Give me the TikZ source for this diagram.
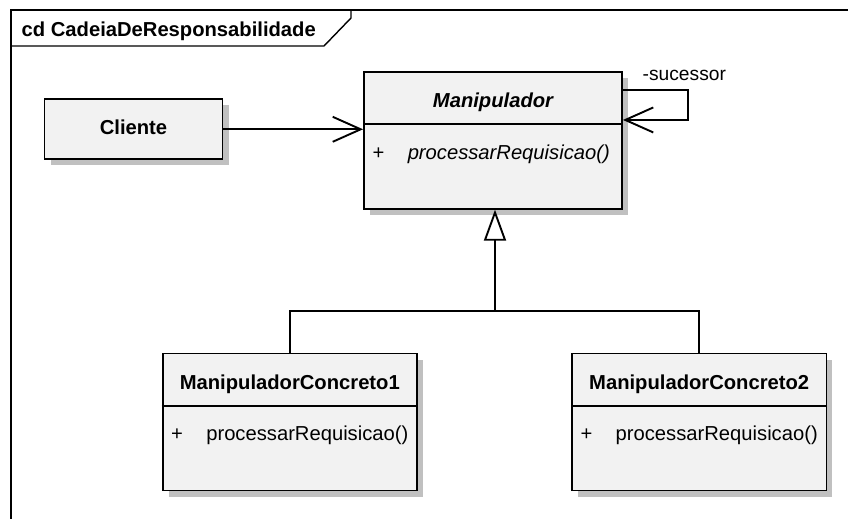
\documentclass[tikz,border=0pt]{standalone}
\usepackage{fontspec}
\setmainfont{Liberation Sans}
\usetikzlibrary{arrows.meta,shadows}

\definecolor{boxfill}{HTML}{F2F2F2}
\definecolor{shadowgray}{HTML}{C0C0C0}
\newcommand\umlreg{\fontsize{20.2}{24}\selectfont}
\newcommand\umlbold{\fontsize{20.2}{24}\selectfont\bfseries}

\tikzset{
  umlline/.style={line width=1.9pt},
  frameline/.style={line width=1.4pt},
  classbox/.style={draw, umlline, fill=boxfill, inner sep=0pt,
    drop shadow={shadow xshift=6pt, shadow yshift=-6pt, fill=shadowgray, opacity=1}},
  classname/.style={anchor=base, inner sep=0pt, font=\umlbold},
  optext/.style={anchor=base west, inner sep=0pt, font=\umlreg},
  vistext/.style={anchor=base, inner sep=0pt, font=\umlreg},
  assoc/.style={umlline, -{Straight Barb[length=28pt, width=25pt]}},
  general/.style={umlline, -{Triangle[open, fill=white, length=31pt, width=22pt]}},
}

\begin{document}
\begin{tikzpicture}[x=1pt, y=-1pt, line join=miter]
  \fill[white] (0,0) rectangle (848,519);
  \useasboundingbox (0,0) rectangle (848,519);

  % diagram frame with its name tab
  \draw[frameline] (848,10) -- (11,10) -- (11,519);
  \draw[frameline] (11,46) -- (324,46) -- (351,18) -- (351,10);
  \node[anchor=base west, inner sep=0pt, font=\umlbold] (frametitle) at (21.5,37)
    {cd CadeiaDeResponsabilidade};

  % Cliente
  \node[classbox, minimum width=178pt, minimum height=60pt] (cli) at (133.5,129.3) {};
  \node[classname] (cli-name) at ([yshift=-36.5pt]cli.north) {Cliente};

  % Manipulador (abstract)
  \node[classbox, minimum width=258pt, minimum height=137pt] (man) at (493,140.2) {};
  \node[classname, font=\umlbold\itshape] (man-name) at ([yshift=-36.7pt]man.north) {Manipulador};
  \draw[umlline] ([yshift=-53pt]man.north west) -- ([yshift=-53pt]man.north east);
  \node[vistext] (man-vis) at ([xshift=15.5pt, yshift=-88.3pt]man.north west) {+};
  \node[optext, font=\umlreg\itshape] (man-op) at ([xshift=44.5pt, yshift=-88.3pt]man.north west)
    {processarRequisicao()};

  % ManipuladorConcreto1
  \node[classbox, minimum width=254.5pt, minimum height=137pt] (mc1) at (289.8,422) {};
  \node[classname] (mc1-name) at ([yshift=-36.7pt]mc1.north) {ManipuladorConcreto1};
  \draw[umlline] ([yshift=-53pt]mc1.north west) -- ([yshift=-53pt]mc1.north east);
  \node[vistext] (mc1-vis) at ([xshift=15.5pt, yshift=-88.3pt]mc1.north west) {+};
  \node[optext] (mc1-op) at ([xshift=44.5pt, yshift=-88.3pt]mc1.north west) {processarRequisicao()};

  % ManipuladorConcreto2
  \node[classbox, minimum width=254.5pt, minimum height=137pt] (mc2) at (699.2,422) {};
  \node[classname] (mc2-name) at ([yshift=-36.7pt]mc2.north) {ManipuladorConcreto2};
  \draw[umlline] ([yshift=-53pt]mc2.north west) -- ([yshift=-53pt]mc2.north east);
  \node[vistext] (mc2-vis) at ([xshift=15.5pt, yshift=-88.3pt]mc2.north west) {+};
  \node[optext] (mc2-op) at ([xshift=44.5pt, yshift=-88.3pt]mc2.north west) {processarRequisicao()};

  % association Cliente -> Manipulador
  \draw[assoc] (cli.east) -- (cli.east -| man.west);

  % self association "sucessor"
  \draw[assoc] ([yshift=-19.5pt]man.north east) -- ++(64.7,0) -- ++(0,29.7)
    -- ([yshift=-49.2pt]man.north east);
  \node[optext, font=\fontsize{19.2}{23}\selectfont] (suc) at (642.5,80) {-sucessor};

  % generalization
  \coordinate (join) at (495,310.7);
  \draw[umlline] (mc1.north) |- (join) -| (mc2.north);
  \draw[general] (join) -- (join |- man.south);
\end{tikzpicture}
\end{document}
